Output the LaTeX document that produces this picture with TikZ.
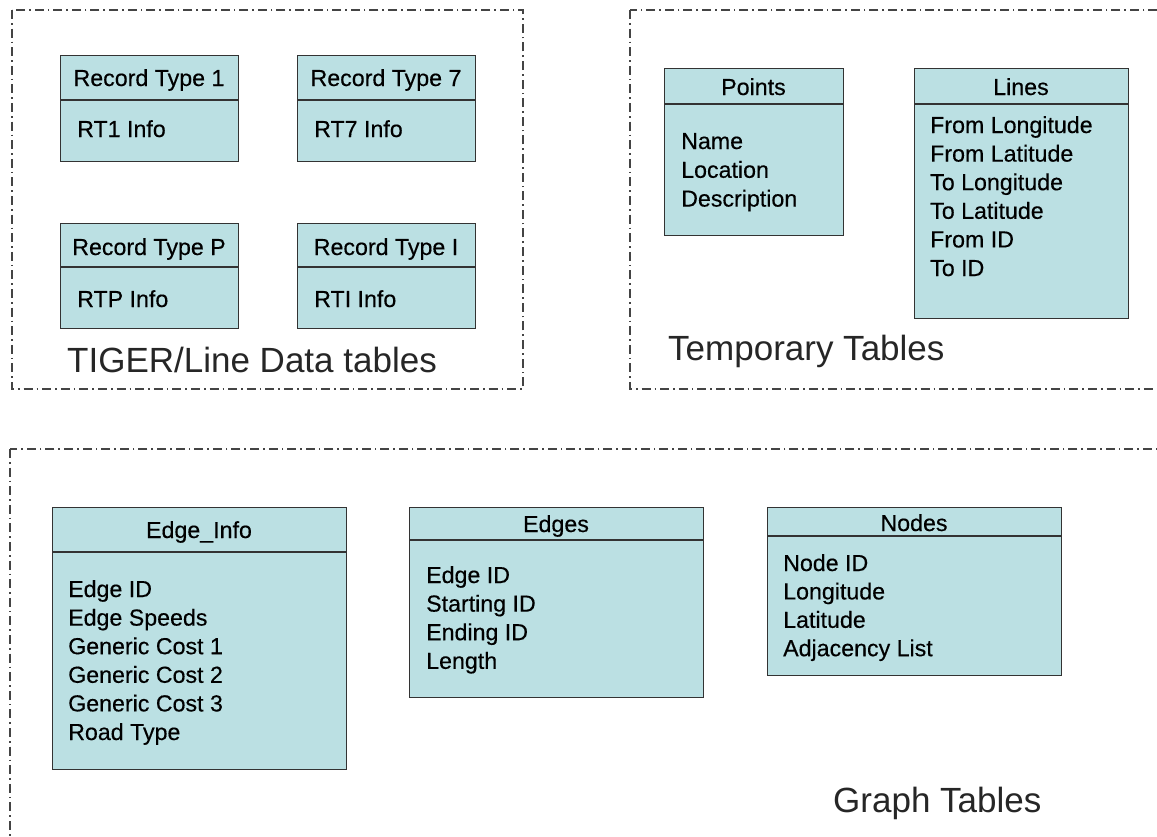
\documentclass[tikz,border=0pt]{standalone}
\usepackage{fontspec}
\setmainfont{Liberation Sans}
\newfontfamily\tblfont[FakeBold=0.35]{Liberation Sans}
\definecolor{tblfill}{HTML}{BBE0E3}
\definecolor{tblline}{HTML}{333333}
\definecolor{framecol}{HTML}{444444}
\begin{document}
\begin{tikzpicture}[x=1pt,y=-1pt,
  tablebox/.style={draw=tblline, fill=tblfill, line width=1.4pt, anchor=north west, inner sep=0pt, minimum width=#1},
  divider/.style={draw=tblline, line width=1.4pt},
  frame/.style={draw=framecol, line width=1.2pt, dash pattern=on 9pt off 4pt on 1.6pt off 4pt},
  hdr/.style={anchor=base, inner sep=0pt, font=\tblfont\fontsize{23.2}{27}\selectfont},
  item/.style={anchor=base west, inner sep=0pt, font=\tblfont\fontsize{23.2}{27}\selectfont},
  grouplabel/.style={anchor=base west, inner sep=0pt, font=\fontsize{35}{40}\selectfont, text=black!85}]
\useasboundingbox (0,0) rectangle (1157,836);
\fill[white] (0,0) rectangle (1157,836);

% group frames
\draw[frame] (12,10) rectangle (523,389);
\draw[frame] (630,10) rectangle (1175,389);
\draw[frame] (10,449) rectangle (1175,850);

% ---- TIGER/Line tables ----
\node[tablebox=178pt, minimum height=106pt] (rt1) at (60,55) {};
\draw[divider] ([yshift=-45pt]rt1.north west) -- ([yshift=-45pt]rt1.north east);
\node[hdr] (rt1h) at (149,86) {Record Type 1};
\node[item] (rt1b) at (77,137) {RT1 Info};

\node[tablebox=178pt, minimum height=106pt] (rt7) at (297,55) {};
\draw[divider] ([yshift=-45pt]rt7.north west) -- ([yshift=-45pt]rt7.north east);
\node[hdr] (rt7h) at (386,86) {Record Type 7};
\node[item] (rt7b) at (314,137) {RT7 Info};

\node[tablebox=178pt, minimum height=105pt] (rtp) at (60,223) {};
\draw[divider] ([yshift=-44pt]rtp.north west) -- ([yshift=-44pt]rtp.north east);
\node[hdr] (rtph) at (149,255) {Record Type P};
\node[item] (rtpb) at (77,307) {RTP Info};

\node[tablebox=178pt, minimum height=105pt] (rti) at (297,223) {};
\draw[divider] ([yshift=-44pt]rti.north west) -- ([yshift=-44pt]rti.north east);
\node[hdr] (rtih) at (386,255) {Record Type I};
\node[item] (rtib) at (314,307) {RTI Info};

\node[grouplabel] (lbl1) at (67,372) {TIGER/Line Data tables};

% ---- Temporary tables ----
\node[tablebox=179pt, minimum height=167pt] (pts) at (664,68) {};
\draw[divider] ([yshift=-36pt]pts.north west) -- ([yshift=-36pt]pts.north east);
\node[hdr] (ptsh) at (753.5,95) {Points};
\foreach \t [count=\i] in {Name, Location, Description}
  \node[item] (pts-\i) at (681,{149+28.8*(\i-1)}) {\t};

\node[tablebox=214pt, minimum height=250pt] (lns) at (914,68) {};
\draw[divider] ([yshift=-36pt]lns.north west) -- ([yshift=-36pt]lns.north east);
\node[hdr] (lnsh) at (1021,95) {Lines};
\foreach \t [count=\i] in {From Longitude, From Latitude, To Longitude, To Latitude, From ID, To ID}
  \node[item] (lns-\i) at (930,{133+28.6*(\i-1)}) {\t};

\node[grouplabel] (lbl2) at (668,360) {Temporary Tables};

% ---- Graph tables ----
\node[tablebox=294pt, minimum height=262pt] (ei) at (52,507) {};
\draw[divider] ([yshift=-45pt]ei.north west) -- ([yshift=-45pt]ei.north east);
\node[hdr] (eih) at (199,538) {Edge\_Info};
\foreach \t [count=\i] in {Edge ID, Edge Speeds, Generic Cost 1, Generic Cost 2, Generic Cost 3, Road Type}
  \node[item] (ei-\i) at (68,{597+28.6*(\i-1)}) {\t};

\node[tablebox=294pt, minimum height=190pt] (edg) at (409,507) {};
\draw[divider] ([yshift=-33pt]edg.north west) -- ([yshift=-33pt]edg.north east);
\node[hdr] (edgh) at (556,532) {Edges};
\foreach \t [count=\i] in {Edge ID, Starting ID, Ending ID, Length}
  \node[item] (edg-\i) at (426,{583+28.6*(\i-1)}) {\t};

\node[tablebox=294pt, minimum height=168pt] (nds) at (767,507) {};
\draw[divider] ([yshift=-29pt]nds.north west) -- ([yshift=-29pt]nds.north east);
\node[hdr] (ndsh) at (914,531) {Nodes};
\foreach \t [count=\i] in {Node ID, Longitude, Latitude, Adjacency List}
  \node[item] (nds-\i) at (783,{571+28.4*(\i-1)}) {\t};

\node[grouplabel] (lbl3) at (833,812) {Graph Tables};
\end{tikzpicture}
\end{document}
